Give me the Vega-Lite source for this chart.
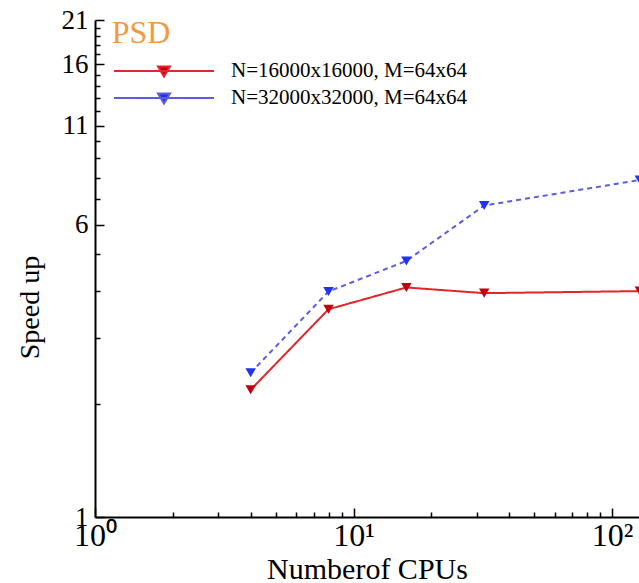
{
  "$schema": "https://vega.github.io/schema/vega-lite/v6.json",
  "autosize": {"type": "none"},
  "padding": {"left": 95, "top": 20, "right": 0, "bottom": 66},
  "width": 544,
  "height": 497,
  "background": "white",
  "config": {
    "view": {"stroke": null},
    "font": "Liberation Serif",
    "axis": {"grid": false, "domainColor": "black", "domainWidth": 2, "tickColor": "black", "tickWidth": 1.5, "labelColor": "black", "titleColor": "black", "labelFont": "Liberation Serif", "titleFont": "Liberation Serif", "titleFontWeight": "normal"}
  },
  "data": {"values": [
    {"series": "N=16000x16000, M=64x64", "cpus": 4, "speedup": 2.18},
    {"series": "N=16000x16000, M=64x64", "cpus": 8, "speedup": 3.57},
    {"series": "N=16000x16000, M=64x64", "cpus": 16, "speedup": 4.08},
    {"series": "N=16000x16000, M=64x64", "cpus": 32, "speedup": 3.94},
    {"series": "N=16000x16000, M=64x64", "cpus": 128, "speedup": 3.99},
    {"series": "N=32000x32000, M=64x64", "cpus": 4, "speedup": 2.42},
    {"series": "N=32000x32000, M=64x64", "cpus": 8, "speedup": 3.98},
    {"series": "N=32000x32000, M=64x64", "cpus": 16, "speedup": 4.80},
    {"series": "N=32000x32000, M=64x64", "cpus": 32, "speedup": 6.74},
    {"series": "N=32000x32000, M=64x64", "cpus": 128, "speedup": 7.88}
  ]},
  "resolve": {"axis": {"x": "independent", "y": "independent"}, "scale": {"color": "independent"}},
  "layer": [
    {
      "mark": {"type": "line", "strokeWidth": 2, "clip": false},
      "encoding": {
        "x": {"field": "cpus", "type": "quantitative", "scale": {"type": "log", "domain": [1, 127], "nice": false},
          "axis": {"orient": "bottom", "values": [1, 10, 100], "labelExpr": "datum.value == 1 ? '10⁰' : datum.value == 10 ? '10¹' : '10²'", "labelFontSize": 32, "ticks": false, "labelPadding": 3, "labelFlush": false, "title": "Numberof CPUs", "titleFontSize": 30, "titleBaseline": "alphabetic", "titleY": 61}},
        "y": {"field": "speedup", "type": "quantitative", "scale": {"type": "log", "domain": [1, 21], "nice": false},
          "axis": {"orient": "left", "values": [1, 6, 11, 16, 21], "labelFontSize": 27, "ticks": false, "labelPadding": 7, "labelFlush": false, "labelBaseline": "middle", "title": "Speed up", "titleFontSize": 28, "titleAngle": -90, "titleAlign": "center", "titleBaseline": "middle", "titleX": -65, "titleY": 287}},
        "color": {"field": "series", "type": "nominal", "scale": {"range": ["#e2262b", "#5c5ce2"]},
          "legend": {"title": null, "orient": "none", "legendX": 58, "legendY": 40, "symbolType": "M-5,0L5,0M-0.6,-0.45L0.6,-0.45L0,0.55Z", "symbolSize": 400, "symbolStrokeWidth": 2, "labelFont": "Liberation Serif", "labelFontSize": 21, "labelColor": "black", "labelOffset": 56, "rowPadding": 6, "labelLimit": 400,
            "encode": {"symbols": {"update": {"fill": [{"test": "datum.value === 'N=16000x16000, M=64x64'", "value": "#c0000e"}, {"value": "#1f33f0"}]}}}}},
        "strokeDash": {"field": "series", "type": "nominal", "scale": {"range": [[1, 0], [5, 4]]}, "legend": null}
      }
    },
    {
      "mark": {"type": "point", "shape": "triangle-down", "filled": true, "opacity": 1, "size": 110, "clip": false},
      "encoding": {
        "x": {"field": "cpus", "type": "quantitative",
          "axis": {"orient": "top", "offset": -497, "values": [2, 3, 4, 5, 6, 7, 8, 9, 20, 30, 40, 50, 60, 70, 80, 90], "labels": false, "domain": false, "tickSize": 5, "title": null}},
        "y": {"field": "speedup", "type": "quantitative",
          "axis": {"orient": "right", "offset": -544, "values": [2, 3, 4, 5, 7, 8, 9, 10, 12, 13, 14, 15, 17, 18, 19, 20], "labels": false, "domain": false, "tickSize": 5, "title": null}},
        "color": {"field": "series", "type": "nominal", "scale": {"range": ["#c0000e", "#1f33f0"]}, "legend": null}
      }
    },
    {
      "data": {"values": [{"label": "PSD"}]},
      "mark": {"type": "text", "align": "left", "baseline": "alphabetic", "font": "Liberation Serif", "fontSize": 32, "color": "#f39a3e"},
      "encoding": {
        "x": {"datum": 1.16, "type": "quantitative",
          "axis": {"orient": "top", "offset": -497, "values": [1, 10, 100], "labels": false, "domain": false, "tickSize": 9, "title": null}},
        "y": {"datum": 18.2, "type": "quantitative",
          "axis": {"orient": "right", "offset": -544, "values": [1, 6, 11, 16, 21], "labels": false, "domain": false, "tickSize": 9, "title": null}},
        "text": {"field": "label"}
      }
    }
  ]
}
